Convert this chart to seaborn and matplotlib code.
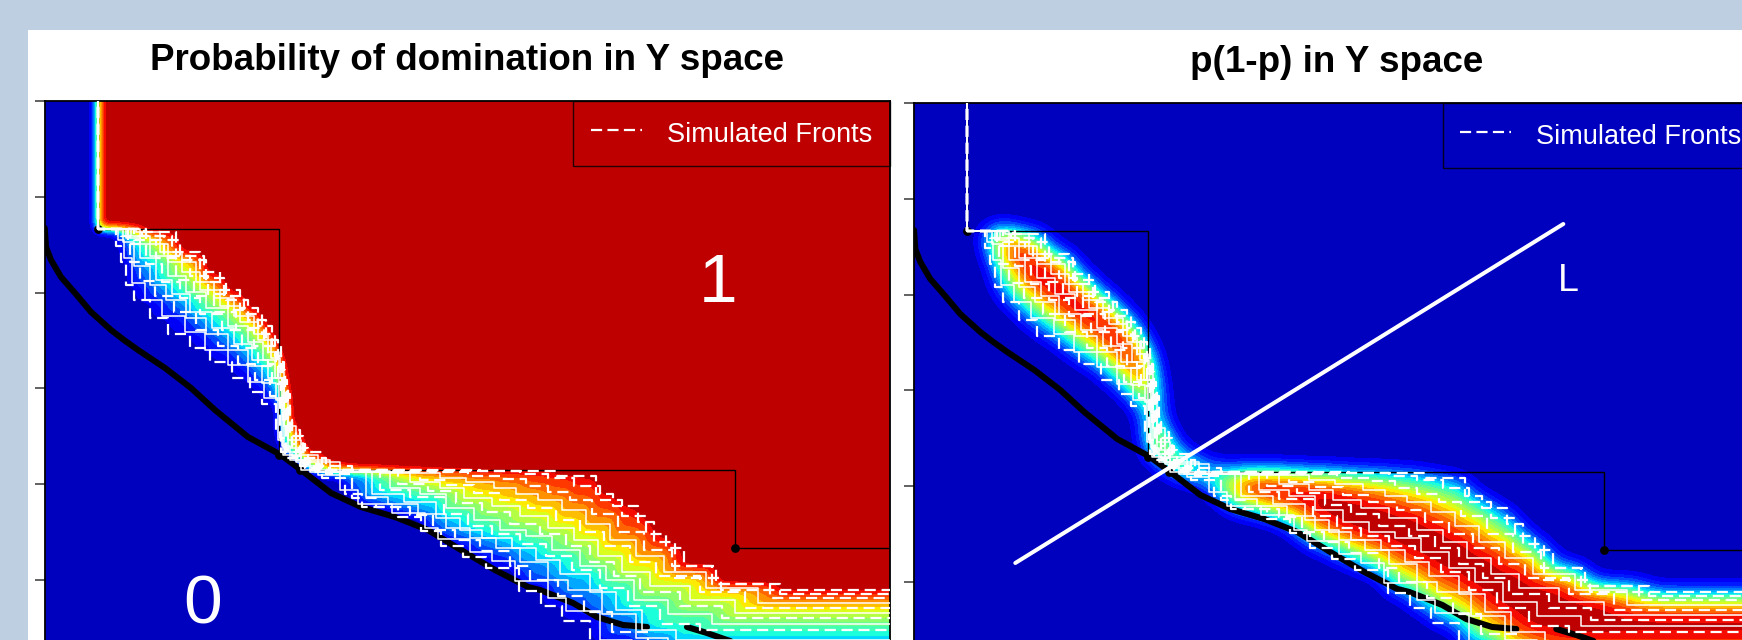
import numpy as np
import matplotlib
matplotlib.use("Agg")
import matplotlib.pyplot as plt
from matplotlib.patches import Rectangle
from matplotlib.lines import Line2D
import seaborn as sns

# ---------------- data (chart units; y axis runs downward) ----------------
TITLES = ["Probability of domination in Y space", "p(1-p) in Y space"]
LEGEND_LABEL = "Simulated Fronts"
LABEL_ONE = "1"
LABEL_ZERO = "0"
LABEL_L = "L"

FRONTS_X = [
    [98,116,121,126,134,150,168,190,210,232,250,262,276,281,322,345,362,398,421,441,463,486,519,541,562,590,622,660,702],
    [98,118,124,132,145,162,185,205,228,248,264,278,283,318,340,358,392,425,438,470,492,515,548,566,600,632,675],
    [98,121,130,140,155,174,196,218,238,255,270,280,285,326,352,376,410,433,455,480,510,530,558,584,612,648,690],
    [98,123,134,150,166,186,206,228,248,262,276,282,290,330,366,388,418,446,470,496,520,548,568,602,636,668],
    [98,126,140,156,172,190,212,234,252,268,279,284,296,340,372,404,436,460,482,512,536,560,590,616,642,676],
    [98,128,146,162,180,200,222,242,258,272,281,286,300,352,380,410,444,468,492,520,546,572,600,628,660,700],
    [98,131,150,168,186,206,228,248,263,275,282,288,301,360,390,420,446,474,500,526,552,580,606,634,668,712],
    [98,134,156,176,194,214,236,254,268,278,283,292,305,372,398,428,456,482,510,540,566,590,614,640,680,722],
    [98,136,160,182,200,220,240,258,271,280,284,296,310,380,410,440,464,492,520,548,574,598,622,650,690,735],
    [98,138,164,190,208,228,248,264,276,282,286,300,312,392,420,446,474,500,528,556,580,604,630,656,700,745],
    [98,140,168,196,214,234,254,268,279,284,288,301,315,410,440,466,494,516,538,562,586,610,636,664,706,758],
    [98,142,172,200,220,240,258,272,281,285,290,303,320,430,468,500,526,548,570,592,618,644,672,712,770],
    [98,144,176,204,224,244,262,275,283,287,292,305,330,480,520,548,574,600,622,646,666,684,716,780],
    [98,146,180,206,226,248,266,278,284,288,296,308,340,557,596,613,638,654,675,721],
]
FRONTS_Y = [
    [229,246,262,285,300,318,334,348,362,378,392,404,432,452,478,494,507,517,531,546,557,568,591,606,621,642,664,684,695],
    [229,240,258,283,300,316,332,350,365,382,398,440,455,475,490,504,513,528,539,552,561,581,598,611,640,660,678],
    [229,236,262,281,296,312,330,346,364,380,396,438,458,474,498,507,515,530,540,551,566,580,596,612,632,652,664],
    [229,242,266,285,300,318,334,350,366,383,400,446,460,472,497,504,514,528,538,548,562,580,590,614,638,650],
    [229,238,258,280,294,312,328,344,360,378,398,448,462,472,494,502,518,530,538,548,560,574,592,610,630,640],
    [229,244,264,282,298,314,330,348,366,384,404,450,466,471,490,497,514,526,534,544,556,570,588,606,624,630],
    [229,236,256,276,292,308,326,342,360,378,410,452,470,471,488,494,508,520,530,536,550,566,580,600,614,624],
    [229,240,258,280,296,312,330,346,364,382,420,456,470,471,484,491,503,512,524,534,546,562,576,592,606,618],
    [229,232,252,272,290,306,322,340,358,378,426,460,472,473,482,488,498,506,516,528,540,556,572,586,600,613],
    [229,236,256,276,294,310,328,346,366,390,430,462,470,472,480,485,493,500,508,520,532,546,562,576,592,608],
    [229,244,262,282,298,316,334,352,372,400,440,466,472,473,478,482,488,494,500,510,524,540,556,572,588,603],
    [229,236,252,272,290,308,326,346,370,394,436,464,470,472,476,479,486,492,500,514,532,550,566,584,598],
    [229,232,256,278,296,314,334,356,380,420,444,468,470,471,474,478,486,500,516,534,548,566,584,594],
    [229,240,260,282,300,320,340,362,386,430,448,470,471,476,494,506,522,542,578,590],
]
FRONT_DASHED = [True, False, True, False, False, True, False, True, False, True, False, True, True, True]

OBS_FRONT_X = [98, 279, 300, 735]
OBS_FRONT_Y = [229, 455, 470, 548]

TRUE_FRONT_A_X = [44.7,46,51,61,75,91,111,124,138,165,191,215,248,281,305,331,361,395,428,461,495,528,540,573,597,623,647]
TRUE_FRONT_A_Y = [228,247,260,277,293,312,330,340,350,368,388,410,437,455,473,493,507,517,530,550,570,587,590,603,617,625,627]
TRUE_FRONT_B_X = [687,707,727,760]
TRUE_FRONT_B_Y = [627,633,640,650]

LINE_L_X = [146, 694]
LINE_L_Y = [561, 222]

Y_TICKS = [100.7, 196.6, 292.5, 388.3, 484.2, 580.1]
X_LIM = (44.7, 889.5)
Y_LIM = (676, 100.7)

# ---------------- style ----------------
sns.set_theme(style="white")
plt.rcParams["font.family"] = ["Liberation Sans", "DejaVu Sans"]

W, H = 1742, 640
fig = plt.figure(figsize=(W / 100, H / 100), dpi=100, facecolor="#bdcfe0")
fig.add_artist(Rectangle((27.5 / W, -0.1), 1.0, 1.1 - 30 / H, transform=fig.transFigure,
                         facecolor="white", edgecolor="none", zorder=-1))

axL = fig.add_axes([44.7 / W, 1 - 676 / H, 844.8 / W, 575.3 / H])
axR = fig.add_axes([914 / W, 1 - 678 / H, 844.8 / W, 575.3 / H])

# ---------------- fields derived from the fronts ----------------
gx = np.linspace(X_LIM[0], X_LIM[1], 565)
gy = np.linspace(Y_LIM[1], Y_LIM[0], 385)
GX, GY = np.meshgrid(gx, gy)

dom = []
for fx, fy in zip(FRONTS_X, FRONTS_Y):
    fx = np.asarray(fx, float); fy = np.asarray(fy, float)
    idx = np.searchsorted(fx, gx, side="right") - 1
    level = np.where(idx >= 0, fy[np.clip(idx, 0, None)], -np.inf)
    dom.append(GY <= level[None, :])
p_emp = np.mean(dom, axis=0)


def gauss_matrix(coords, sigma):
    d = coords[:, None] - coords[None, :]
    k = np.exp(-0.5 * (d / sigma) ** 2)
    return k / k.sum(axis=1, keepdims=True)


def blur(field, sigma):
    return gauss_matrix(gy, sigma) @ field @ gauss_matrix(gx, sigma).T


p_field = np.clip(blur(p_emp, 5.0), 0, 1)
v_field = blur(p_emp * (1 - p_emp), 11.0)
v_field = np.clip(v_field / v_field.max(), 0, 1)

jet = matplotlib.colormaps["jet"]
palette = [jet(v) for v in np.linspace(0.055, 0.945, 20)]
levels = np.linspace(0, 1, 21)


def staircase(px, py, x_end=905, y_top=90):
    xs, ys = [px[0]], [y_top]
    for i in range(len(px)):
        xs.append(px[i]); ys.append(py[i])
        xs.append(px[i + 1] if i + 1 < len(px) else x_end); ys.append(py[i])
    return xs, ys


def draw_panel(ax, field, title, show_L):
    ax.contourf(gx, gy, field, levels=levels, colors=palette, zorder=0)
    sx, sy = staircase(OBS_FRONT_X, OBS_FRONT_Y)
    sns.lineplot(x=sx, y=sy, sort=False, estimator=None, color="black", lw=1.0, ax=ax, zorder=2)
    sns.scatterplot(x=OBS_FRONT_X, y=OBS_FRONT_Y, color="black", s=40, linewidth=0, ax=ax, zorder=2)
    for cx, cy in [(TRUE_FRONT_A_X, TRUE_FRONT_A_Y), (TRUE_FRONT_B_X, TRUE_FRONT_B_Y)]:
        sns.lineplot(x=cx, y=cy, sort=False, estimator=None, color="black", lw=4.4, ax=ax, zorder=3)
    for fx, fy, dashed in zip(FRONTS_X, FRONTS_Y, FRONT_DASHED):
        sx, sy = staircase(fx, fy)
        if dashed:
            sns.lineplot(x=sx, y=sy, sort=False, estimator=None, color="white", lw=1.6,
                         linestyle=(0, (5, 2.6)), ax=ax, zorder=4)
        else:
            sns.lineplot(x=sx, y=sy, sort=False, estimator=None, color="white", lw=1.1,
                         ax=ax, zorder=4)
    if show_L:
        sns.lineplot(x=LINE_L_X, y=LINE_L_Y, sort=False, estimator=None, color="white",
                     lw=2.9, ax=ax, zorder=5)
        ax.text(698.7, 289, LABEL_L, color="white", fontsize=27, ha="center", va="baseline", zorder=6)
    else:
        ax.text(718, 302, LABEL_ONE, color="white", fontsize=50, ha="center", va="baseline", zorder=6)
        ax.text(203, 623, LABEL_ZERO, color="white", fontsize=50, ha="center", va="baseline", zorder=6)

    handle = Line2D([0], [0], color="white", lw=1.6, linestyle=(0, (5, 2.4)))
    leg = ax.legend([handle], [LEGEND_LABEL], loc="upper right", frameon=True, fancybox=False,
                    edgecolor="black", facecolor="none", fontsize=19.5, labelcolor="white",
                    borderaxespad=0, borderpad=0.64, handlelength=1.9, handletextpad=0.92,
                    handleheight=1.35)
    leg.get_frame().set_linewidth(1.0)
    leg.set_zorder(7)

    ax.set_xlim(*X_LIM)
    ax.set_ylim(*Y_LIM)
    ax.set_yticks(Y_TICKS)
    ax.set_xticks([])
    ax.set_xlabel(""); ax.set_ylabel("")
    ax.tick_params(axis="y", left=True, length=7.2, width=1.3, color="#555555",
                   direction="out", labelleft=False)
    for s in ax.spines.values():
        s.set_color("black"); s.set_linewidth(1.3)
    ax.set_title(title, fontsize=26.5, fontweight="bold", pad=22, color="black")


draw_panel(axL, p_field, TITLES[0], show_L=False)
draw_panel(axR, v_field, TITLES[1], show_L=True)

fig.savefig("out.png", dpi=100, facecolor=fig.get_facecolor())
